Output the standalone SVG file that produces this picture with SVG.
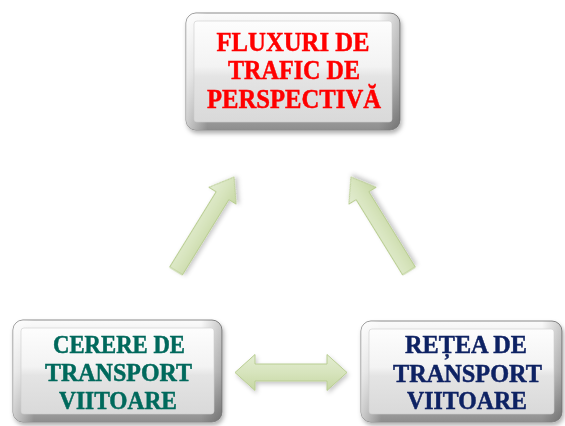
<svg xmlns="http://www.w3.org/2000/svg" width="565" height="426" viewBox="0 0 565 426">
  <defs>
    <linearGradient id="bevelV" x1="0" y1="0" x2="0" y2="1">
      <stop offset="0" stop-color="#fbfbfb"/>
      <stop offset="0.5" stop-color="#d6d6d6"/>
      <stop offset="1" stop-color="#8e8e8e"/>
    </linearGradient>
    <linearGradient id="bevelH" x1="0" y1="0" x2="1" y2="0">
      <stop offset="0" stop-color="#ffffff" stop-opacity="0.55"/>
      <stop offset="0.1" stop-color="#ffffff" stop-opacity="0"/>
      <stop offset="0.9" stop-color="#000000" stop-opacity="0"/>
      <stop offset="1" stop-color="#000000" stop-opacity="0.2"/>
    </linearGradient>
    <linearGradient id="face" x1="0" y1="0" x2="0" y2="1">
      <stop offset="0" stop-color="#fdfdfd"/>
      <stop offset="0.45" stop-color="#f3f3f3"/>
      <stop offset="0.55" stop-color="#e4e4e4"/>
      <stop offset="1" stop-color="#d9d9d9"/>
    </linearGradient>
    <linearGradient id="arrowFill" x1="0" y1="0" x2="0" y2="1">
      <stop offset="0" stop-color="#e3edd2"/>
      <stop offset="0.5" stop-color="#d7e4bd"/>
      <stop offset="1" stop-color="#c6d7a3"/>
    </linearGradient>
    <filter id="shadow" x="-20%" y="-20%" width="140%" height="150%">
      <feDropShadow dx="1.5" dy="3" stdDeviation="2" flood-color="#000000" flood-opacity="0.3"/>
    </filter>
    <filter id="ashadow" x="-30%" y="-30%" width="160%" height="160%">
      <feDropShadow dx="1.5" dy="2.5" stdDeviation="2" flood-color="#000000" flood-opacity="0.22"/>
    </filter>
  </defs>
  <style>
    .outer { fill: url(#bevelV); stroke: #8a8a8a; stroke-width: 1; }
    .side { fill: url(#bevelH); stroke: none; }
    .face { fill: url(#face); stroke: #cfcfcf; stroke-width: 0.6; }
    .lbl { font-family: "Liberation Serif", "Times New Roman", serif; font-weight: bold; text-anchor: middle; stroke-width: 0.5; }
    .t28 { font-size: 28px; }
    .t26 { font-size: 26px; }
    .red { fill: #ff0000; stroke: #ff0000; }
    .teal { fill: #00695c; stroke: #00695c; }
    .navy { fill: #0f2163; stroke: #0f2163; }
    .arrow { fill: url(#arrowFill); stroke: #b9cd92; stroke-width: 1; stroke-linejoin: miter; filter: url(#ashadow); }
  </style>

  <g id="connectors">
    <polygon class="arrow" transform="translate(176,271) rotate(-58.3)" points="0,-7.5 88.5,-7.5 88.5,-16 110.5,0 88.5,16 88.5,7.5 0,7.5"/>
    <polygon class="arrow" transform="translate(409,271) rotate(-121.7)" points="0,-7.5 88.5,-7.5 88.5,-16 110.5,0 88.5,16 88.5,7.5 0,7.5"/>
    <polygon class="arrow" points="235,372.5 255,354.5 255,364 327,364 327,354.5 347,372.5 327,390.5 327,381 255,381 255,390.5"/>
  </g>

  <g id="node-fluxuri" filter="url(#shadow)">
    <rect class="outer" x="186" y="13" width="214" height="117" rx="10"/>
    <rect class="side" x="186" y="13" width="214" height="117" rx="10"/>
    <rect class="face" x="194" y="21" width="198" height="101" rx="3"/>
    <text class="lbl t28 red" x="293" y="51" textLength="153" lengthAdjust="spacingAndGlyphs">FLUXURI DE</text>
    <text class="lbl t28 red" x="294" y="79" textLength="132" lengthAdjust="spacingAndGlyphs">TRAFIC DE</text>
    <text class="lbl t28 red" x="294" y="108" textLength="174" lengthAdjust="spacingAndGlyphs">PERSPECTIVĂ</text>
  </g>

  <g id="node-cerere" filter="url(#shadow)">
    <rect class="outer" x="13" y="320" width="209" height="102" rx="10"/>
    <rect class="side" x="13" y="320" width="209" height="102" rx="10"/>
    <rect class="face" x="21" y="328" width="193" height="86" rx="3"/>
    <text class="lbl t26 teal" x="119" y="353" textLength="132" lengthAdjust="spacingAndGlyphs">CERERE DE</text>
    <text class="lbl t26 teal" x="118.5" y="381" textLength="147" lengthAdjust="spacingAndGlyphs">TRANSPORT</text>
    <text class="lbl t26 teal" x="118" y="408.5" textLength="118" lengthAdjust="spacingAndGlyphs">VIITOARE</text>
  </g>

  <g id="node-retea" filter="url(#shadow)">
    <rect class="outer" x="361" y="321" width="201" height="101" rx="10"/>
    <rect class="side" x="361" y="321" width="201" height="101" rx="10"/>
    <rect class="face" x="369" y="329" width="185" height="85" rx="3"/>
    <text class="lbl t26 navy" x="466" y="353" textLength="122" lengthAdjust="spacingAndGlyphs">REȚEA DE</text>
    <text class="lbl t26 navy" x="467.5" y="381.5" textLength="149" lengthAdjust="spacingAndGlyphs">TRANSPORT</text>
    <text class="lbl t26 navy" x="467" y="409" textLength="120" lengthAdjust="spacingAndGlyphs">VIITOARE</text>
  </g>
</svg>
